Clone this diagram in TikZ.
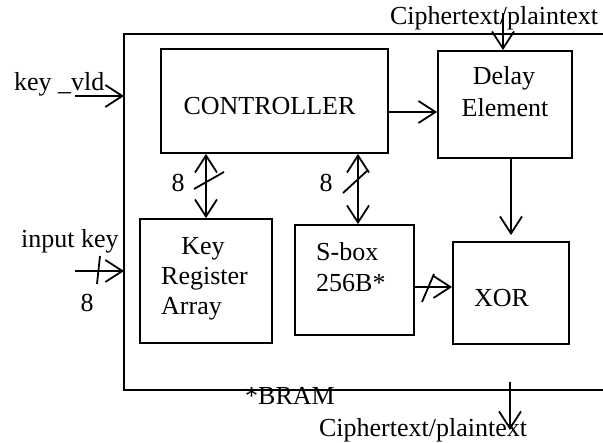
\documentclass[tikz,border=0pt]{standalone}
\usepackage{fontspec}
\setmainfont{Liberation Serif}
\usetikzlibrary{arrows.meta}
\begin{document}
\begin{tikzpicture}[x=1pt,y=-1pt,
  every node/.style={font=\fontsize{26}{30}\selectfont},
  blk/.style={draw, line width=1.8pt, inner sep=0pt},
  lbl/.style={inner sep=0pt, anchor=base},
  lbll/.style={inner sep=0pt, anchor=base west},
  wire/.style={line width=1.8pt},
  arr/.style={wire, -{Straight Barb[length=17pt,width=22pt]}},
  darr/.style={wire, {Straight Barb[length=17pt,width=22pt]}-{Straight Barb[length=17pt,width=22pt]}},
]
\useasboundingbox (0,0) rectangle (603,443);

% outer frame (open to the right)
\draw[wire] (603,34) -- (124,34) -- (124,390) -- (603,390);

% blocks
\node[blk, minimum width=227pt, minimum height=104pt] (ctrl) at (274.5,101) {};
\node[blk, minimum width=134pt, minimum height=107pt] (delay) at (505,104.5) {};
\node[blk, minimum width=132pt, minimum height=124pt] (keyreg) at (206,281) {};
\node[blk, minimum width=119pt, minimum height=110pt] (sbox) at (354.5,280) {};
\node[blk, minimum width=116pt, minimum height=102pt] (xor) at (511,293) {};

% block texts
\node[lbl] (ctrlt) at (269.5,115) {CONTROLLER};
\node[lbl] (delayt1) at (504,85) {Delay};
\node[lbl] (delayt2) at (505,117) {Element};
\node[lbl] (keyt1) at (203,255) {Key};
\node[lbll] (keyt2) at (161,285) {Register};
\node[lbll] (keyt3) at (161,315) {Array};
\node[lbll] (sboxt1) at (316,261) {S-box};
\node[lbll] (sboxt2) at (316,292) {256B*};
\node[lbl] (xort) at (501.5,307) {XOR};

% external labels
\node[lbl] (ctin) at (494,25) {Ciphertext/plaintext};
\node[lbl] (ctout) at (423,437) {Ciphertext/plaintext};
\node[lbll] (kvld) at (14,91) {key \_vld};
\node[lbll] (inkey) at (21,248) {input key};
\node[lbl] (n8a) at (87,312) {8};
\node[lbl] (n8b) at (178,192) {8};
\node[lbl] (n8c) at (326,192) {8};
\node[lbl] (bram) at (290,405) {*BRAM};

% connector end points
\coordinate (kvs) at (75,96);
\coordinate (kve) at (124,96);
\coordinate (iks) at (75,271);
\coordinate (ike) at (124,271);
\coordinate (cts) at (503,13);
\coordinate (outs) at (510,382);
\coordinate (oute) at (510,430);

% connectors
\draw[arr] (kvs) -- (kve);
\draw[arr] (iks) -- (ike);
\draw[arr] (cts) -- (cts |- delay.north);
\draw[arr] (ctrl.east |- 0,112) -- (delay.west |- 0,112);
\draw[arr, shorten >=6pt] (delay.south -| xor.north) -- (xor.north);
\draw[darr] (ctrl.south -| keyreg.north) -- (keyreg.north);
\draw[darr] (ctrl.south -| 358,0) -- (sbox.north -| 358,0);
\draw[arr] (sbox.east |- 0,287) -- (xor.west |- 0,287);
\draw[arr] (outs) -- (oute);

% bus-width slashes
\draw[wire] (194,189) -- (224,172);
\draw[wire] (343,193) -- (368,170);
\draw[wire] (422,302) -- (434,274);
\draw[wire] (100,256) -- (97,284);
\end{tikzpicture}
\end{document}
